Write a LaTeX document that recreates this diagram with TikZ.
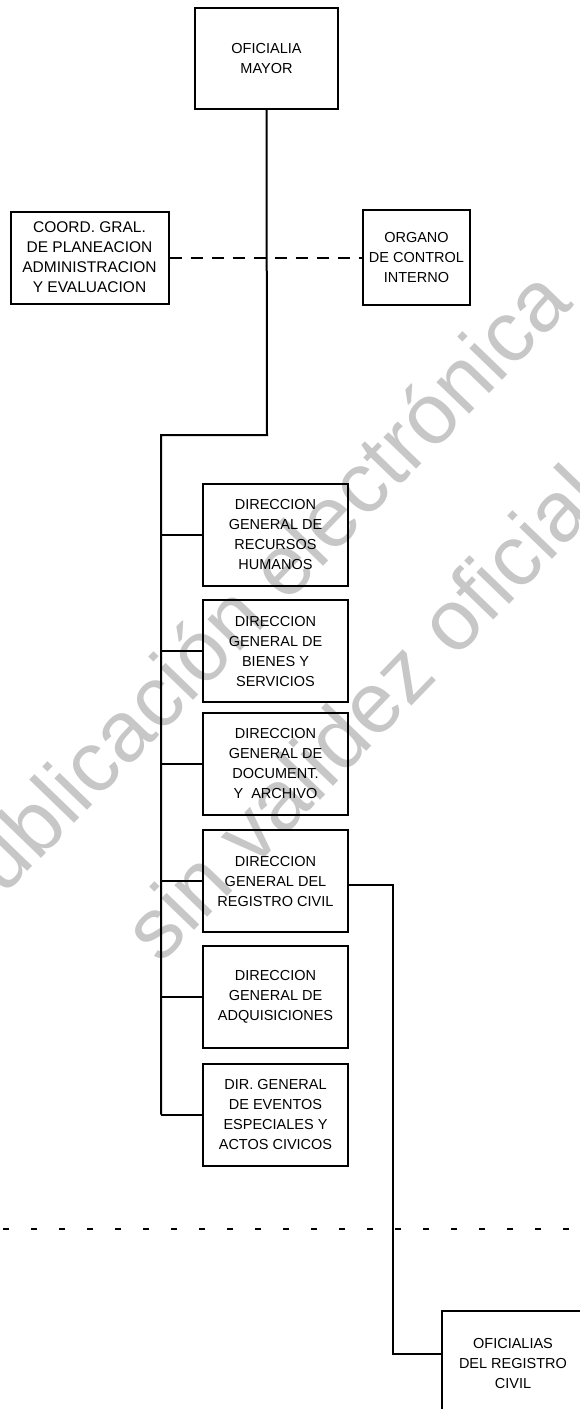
\documentclass[tikz,border=0pt]{standalone}
\usepackage{fontspec}
\setmainfont{Liberation Sans}
\begin{document}
\begin{tikzpicture}[x=1pt,y=-1pt,
  box/.style={draw, line width=2pt, align=center, inner sep=0pt,
    font=\fontsize{14.5}{20}\selectfont},
  dirbox/.style={box, minimum width=145pt, minimum height=102pt},
  link/.style={line width=2pt},
  dashlink/.style={line width=2pt, dash pattern=on 12pt off 9pt},
  dotlink/.style={line width=2.2pt, dash pattern=on 6pt off 22pt},
  wm/.style={text=black!22, font=\fontsize{86}{100}\selectfont, inner sep=0pt}
]
\useasboundingbox (0,0) rectangle (580,1409);
% watermark
\node[wm, rotate=46, anchor=base west] (wm1) at (-36,938) {Publicación electrónica};
\node[wm, rotate=46, anchor=base west] (wm2) at (160,966) {sin validez oficial};

% boxes
\node[box, minimum width=143pt, minimum height=101pt] (om) at (266.5,58.5) {OFICIALIA\\MAYOR};
\node[box, minimum width=158pt, minimum height=92pt,
  font=\fontsize{15.5}{20}\selectfont] (coord) at (89.5,257.5)
  {COORD. GRAL.\\DE PLANEACION\\ADMINISTRACION\\Y EVALUACION};
\node[box, minimum width=107pt, minimum height=95pt] (oci) at (416.5,257.5)
  {ORGANO\\DE CONTROL\\INTERNO};

\node[dirbox] (rh) at (275.5,534.5) {DIRECCION\\GENERAL DE\\RECURSOS\\HUMANOS};
\node[dirbox] (bs) at (275.5,651) {DIRECCION\\GENERAL DE\\BIENES Y\\SERVICIOS};
\node[dirbox] (da) at (275.5,763.5) {DIRECCION\\GENERAL DE\\DOCUMENT.\\Y\ \ ARCHIVO};
\node[dirbox] (rc) at (275.5,881) {DIRECCION\\GENERAL DEL\\REGISTRO CIVIL};
\node[dirbox] (aq) at (275.5,997) {DIRECCION\\GENERAL DE\\ADQUISICIONES};
\node[dirbox] (ev) at (275.5,1114.5) {DIR. GENERAL\\DE EVENTOS\\ESPECIALES Y\\ACTOS CIVICOS};

\node[box, anchor=north west, minimum width=142pt, minimum height=105pt] (of) at (441,1310)
  {OFICIALIAS\\DEL REGISTRO\\CIVIL};

% connectors
\coordinate (j) at (267,435);
\coordinate (jl) at (161,435);
\draw[link] (om.south) -- (j) -- (jl) -- (jl |- ev.west);
\foreach \n in {rh,bs,da,rc,aq,ev} \draw[link] (jl |- \n.west) -- (\n.west);
\draw[dashlink] (coord.east) -- (oci.west);
\draw[link] ([yshift=-4pt]rc.east) -- ++(44,0) |- ([yshift=10pt]of.west);

% dotted separator
\coordinate (dl) at (3,1229);
\coordinate (dr) at (580,1229);
\draw[dotlink] (dl) -- (dr);
\end{tikzpicture}
\end{document}
